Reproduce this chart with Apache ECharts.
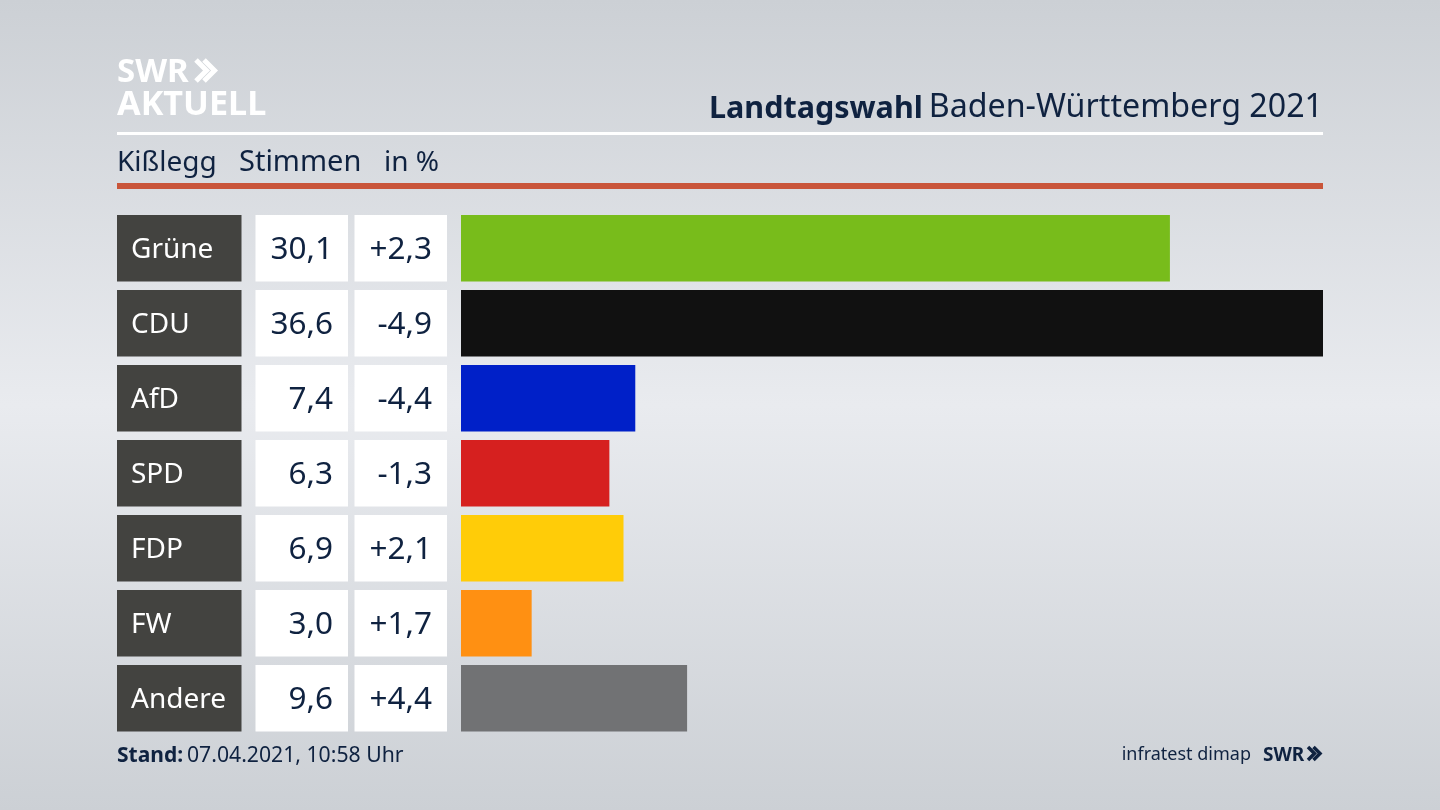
<!DOCTYPE html>
<html>
<head>
<meta charset="utf-8">
<style>
html, body { margin: 0; padding: 0; }
#chart { width: 1440px; height: 810px; }
</style>
<script src="https://cdn.jsdelivr.net/npm/echarts@6/dist/echarts.min.js"></script>
</head>
<body>
<div id="chart"></div>
<script>
var parties = ['Grüne', 'CDU', 'AfD', 'SPD', 'FDP', 'FW', 'Andere'];
var shares = [30.1, 36.6, 7.4, 6.3, 6.9, 3.0, 9.6];
var changes = ['+2,3', '-4,9', '-4,4', '-1,3', '+2,1', '+1,7', '+4,4'];
var partyColors = ['#78bc1b', '#111111', '#0020c8', '#d6201f', '#ffcc08', '#ff9012', '#717274'];

var NAVY = '#0f2240';
var FONT = '"Noto Sans", sans-serif';
var GRID_TOP = 210.75, GRID_H = 525, BAR_H = 66.5;

var chart = echarts.init(document.getElementById('chart'));

// one grid per column: party name, share, change, bars
var columns = [
    { left: 117, width: 124.5 },
    { left: 255.5, width: 92.5 },
    { left: 354.5, width: 92.5 },
    { left: 461, width: 862 }
];

function cellSeries(index, color, align, pad, size, textColor, texts) {
    return {
        type: 'bar',
        xAxisIndex: index,
        yAxisIndex: index,
        barWidth: BAR_H,
        silent: true,
        itemStyle: { color: color },
        data: parties.map(function () { return 1; }),
        label: {
            show: true,
            position: align === 'left' ? 'insideLeft' : 'insideRight',
            distance: pad,
            offset: [0, 2],
            color: textColor,
            fontFamily: FONT,
            fontSize: size,
            formatter: function (p) { return texts[p.dataIndex]; }
        }
    };
}

function chevrons(x, y, h, step, color, w) {
    var d = h * 0.5;
    return [0, 1].map(function (i) {
        var x0 = x + i * step;
        return {
            type: 'polyline',
            silent: true,
            shape: { points: [[x0, y], [x0 + d, y + h / 2], [x0, y + h]] },
            style: { stroke: color, lineWidth: w, fill: null }
        };
    });
}

// y is the text baseline
function text(x, y, str, size, weight, color, align) {
    return {
        type: 'text',
        x: x,
        y: y - size * 0.8,
        silent: true,
        style: {
            text: str,
            fill: color,
            fontFamily: FONT,
            fontSize: size,
            fontWeight: weight,
            textAlign: align || 'left'
        }
    };
}

var option = {
    animation: false,
    backgroundColor: new echarts.graphic.LinearGradient(0, 0, 0, 1, [
        { offset: 0, color: '#ccd0d5' },
        { offset: 0.5, color: '#e9ebef' },
        { offset: 1, color: '#ccd0d5' }
    ]),
    grid: columns.map(function (c) {
        return { left: c.left, width: c.width, top: GRID_TOP, height: GRID_H };
    }),
    xAxis: columns.map(function (c, i) {
        return {
            type: 'value',
            gridIndex: i,
            min: 0,
            max: i === 3 ? 36.6 : 1,
            show: false
        };
    }),
    yAxis: columns.map(function (c, i) {
        return {
            type: 'category',
            gridIndex: i,
            data: parties,
            inverse: true,
            show: false
        };
    }),
    series: [
        cellSeries(0, '#434340', 'left', 14, 28, '#ffffff', parties),
        cellSeries(1, '#ffffff', 'right', 15, 31.5, NAVY, shares.map(function (v) {
            return v.toFixed(1).replace('.', ',');
        })),
        cellSeries(2, '#ffffff', 'right', 15, 31.5, NAVY, changes),
        {
            type: 'bar',
            xAxisIndex: 3,
            yAxisIndex: 3,
            barWidth: BAR_H,
            silent: true,
            data: shares.map(function (v, i) {
                return { value: v, itemStyle: { color: partyColors[i] } };
            })
        }
    ],
    graphic: [
        { type: 'rect', silent: true, shape: { x: 117, y: 132, width: 1206, height: 3 }, style: { fill: '#ffffff' } },
        { type: 'rect', silent: true, shape: { x: 117, y: 183, width: 1206, height: 6 }, style: { fill: '#c9553a' } },
        text(117, 82, 'SWR', 33, 'bold', '#ffffff'),
        text(117, 116, 'AKTUELL', 34.2, 'bold', '#ffffff'),
        text(117, 171, 'Kißlegg', 28, 'normal', NAVY),
        text(239, 171, 'Stimmen', 29, 'normal', NAVY),
        text(384, 171, 'in %', 28, 'normal', NAVY),
        text(709, 118, 'Landtagswahl', 30.5, 'bold', NAVY),
        text(1323, 118, 'Baden-Württemberg 2021', 32.2, 'normal', NAVY, 'right'),
        text(117, 762, 'Stand:', 21, 'bold', NAVY),
        text(187, 762, '07.04.2021, 10:58 Uhr', 21.2, 'normal', NAVY),
        text(1251, 760, 'infratest dimap', 18, 'normal', NAVY, 'right'),
        text(1263, 761, 'SWR', 19, 'bold', NAVY)
    ].concat(chevrons(196, 60, 21, 8, '#ffffff', 5), chevrons(1308, 747, 13, 5.5, NAVY, 3.5))
};

chart.setOption(option);
</script>
</body>
</html>
